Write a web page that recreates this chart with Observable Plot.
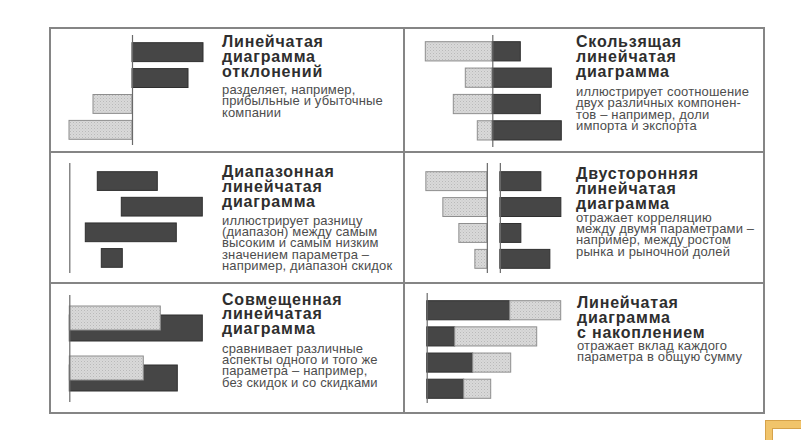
<!DOCTYPE html>
<html>
<head>
<meta charset="utf-8">
<script src="https://cdn.jsdelivr.net/npm/d3@7"></script>
<script src="https://cdn.jsdelivr.net/npm/@observablehq/plot@0.6"></script>
<style>
  html, body { margin: 0; padding: 0; background: #fff; }
  #page { position: relative; width: 801px; height: 440px; background: #fff; overflow: hidden; font-family: "Liberation Sans", Arial, sans-serif; }
  .ln { position: absolute; background: #858585; }
  .title { position: absolute; font-weight: bold; font-size: 16px; line-height: 14.8px; letter-spacing: 0.8px; color: #2e2e2e; white-space: nowrap; }
  .desc { position: absolute; font-size: 13px; line-height: 11.4px; letter-spacing: 0.15px; color: #4d4d4d; white-space: nowrap; }
  #corner { position: absolute; left: 765px; top: 420px; width: 60px; height: 40px; background: #f1c46b; border: 1px solid #d6a24a; box-sizing: border-box; }
  #corner div { position: absolute; left: 6px; top: 7px; right: 0; bottom: 0; background: #fff; border-left: 1px solid #d6a24a; border-top: 1px solid #d6a24a; }
</style>
</head>
<body>
<svg width="0" height="0" style="position:absolute">
  <defs>
    <pattern id="stipple" width="3" height="3" patternUnits="userSpaceOnUse">
      <rect width="3" height="3" fill="#d9d9d9"></rect>
      <rect x="0" y="0" width="1" height="1" fill="#b9b9b9"></rect>
      <rect x="1.5" y="1.5" width="1" height="1" fill="#c6c6c6"></rect>
    </pattern>
  </defs>
</svg>
<div id="page"></div>
<script>
// ---------- data ----------
// 1. deviation bar chart
const devCats = ["a", "b", "c", "d"];
const devValues = [71, 56, -39, -63];
// 2. sliding bar chart (import / export)
const slideCats = ["a", "b", "c", "d"];
const slideLeft = [67, 27, 39, 15];
const slideRight = [28, 59, 48, 69];
// 3. range bar chart
const rangeCats = ["a", "b", "c", "d"];
const rangeLow = [28, 52, 16, 32];
const rangeHigh = [88, 133, 107, 53];
// 4. two-sided bar chart
const twoCats = ["a", "b", "c", "d"];
const twoLeft = [61, 44, 28, 12];
const twoRight = [41, 61, 21, 50];
// 5. overlapping bar chart
const overCats = ["g1", "g2"];
const overLight = [91, 74];
const overDark = [133, 108];
// 6. stacked bar chart
const stackCats = ["a", "b", "c", "d"];
const stackDark = [83, 28, 46, 37];
const stackLight = [51, 82, 38, 27];

// ---------- text ----------
const texts = [
  {t: "Линейчатая<br>диаграмма<br>отклонений", d: "разделяет, например,<br>прибыльные и убыточные<br>компании"},
  {t: "Скользящая<br>линейчатая<br>диаграмма", d: "иллюстрирует соотношение<br>двух различных компонен-<br>тов – например, доли<br>импорта и экспорта"},
  {t: "Диапазонная<br>линейчатая<br>диаграмма", d: "иллюстрирует разницу<br>(диапазон) между самым<br>высоким и самым низким<br>значением параметра –<br>например, диапазон скидок"},
  {t: "Двусторонняя<br>линейчатая<br>диаграмма", d: "отражает корреляцию<br>между двумя параметрами –<br>например, между ростом<br>рынка и рыночной долей"},
  {t: "Совмещенная<br>линейчатая<br>диаграмма", d: "сравнивает различные<br>аспекты одного и того же<br>параметра – например,<br>без скидок и со скидками"},
  {t: "Линейчатая<br>диаграмма<br>с накоплением", d: "отражает вклад каждого<br>параметра в общую сумму"}
];
const textPos = [
  {x: 222, ty: 35, dy: 84},
  {x: 576, ty: 35, dy: 86},
  {x: 222, ty: 165, dy: 214.5},
  {x: 576, ty: 167, dy: 211.5},
  {x: 222, ty: 292.5, dy: 342.5},
  {x: 577, ty: 296, dy: 340}
];

// ---------- styles ----------
const DARK = "#464646", DARK_EDGE = "#2f2f2f";
const LIGHT = "url(#stipple)", LIGHT_EDGE = "#8e8e8e";
const AXIS = "#6a6a6a";
const GAP = 13;

const page = document.getElementById("page");

function line(l, t, w, h) {
  const d = document.createElement("div");
  d.className = "ln";
  Object.assign(d.style, {left: l + "px", top: t + "px", width: w + "px", height: h + "px"});
  page.appendChild(d);
}
// frame
line(49, 27, 716, 2);
line(49, 412, 716, 2);
line(49, 27, 2, 387);
line(763, 27, 2, 387);
line(403, 27, 2, 387);
line(49, 151, 716, 2);
line(49, 282, 716, 2);

function place(svg, left, top) {
  svg.style.position = "absolute";
  svg.style.left = left + "px";
  svg.style.top = top + "px";
  svg.style.background = "transparent";
  svg.style.overflow = "visible";
  page.appendChild(svg);
}

function panel(opts) {
  const {left, top, height, xDomain, cats, yRange, pad, marks} = opts;
  return place(Plot.plot({
    width: 160, height, margin: 0,
    x: {axis: null, domain: xDomain},
    y: {axis: null, domain: cats, range: yRange, paddingInner: pad, paddingOuter: 0, round: false},
    marks
  }), left, top);
}

const dark = {fill: DARK, stroke: DARK_EDGE, strokeWidth: 1};
const light = {fill: LIGHT, stroke: LIGHT_EDGE, strokeWidth: 1};

// 1. deviation
{
  const data = devCats.map((c, i) => ({c, v: devValues[i]}));
  panel({left: 55, top: 35, height: 110, xDomain: [-77, 83], cats: devCats, yRange: [7.7, 104.3], pad: 0.27,
    marks: [
      Plot.barX(data, {filter: d => d.v > 0, y: "c", x1: 0, x2: "v", ...dark}),
      Plot.barX(data, {filter: d => d.v < 0, y: "c", x1: "v", x2: 0, ...light}),
      Plot.ruleX([0], {stroke: AXIS, strokeWidth: 1.2})
    ]});
}
// 2. sliding
{
  const data = slideCats.map((c, i) => ({c, l: slideLeft[i], r: slideRight[i]}));
  panel({left: 415, top: 35, height: 112, xDomain: [-77.3, 82.7], cats: slideCats, yRange: [6.7, 105], pad: 0.27,
    marks: [
      Plot.barX(data, {y: "c", x1: d => -d.l, x2: 0, ...light}),
      Plot.barX(data, {y: "c", x1: 0, x2: "r", ...dark}),
      Plot.ruleX([0], {stroke: AXIS, strokeWidth: 1.2})
    ]});
}
// 3. range
{
  const data = rangeCats.map((c, i) => ({c, lo: rangeLow[i], hi: rangeHigh[i]}));
  panel({left: 60, top: 163, height: 110, xDomain: [-9.3, 150.7], cats: rangeCats, yRange: [8.7, 104.3], pad: 0.27,
    marks: [
      Plot.barX(data, {y: "c", x1: "lo", x2: "hi", ...dark}),
      Plot.ruleX([0], {stroke: AXIS, strokeWidth: 1.2})
    ]});
}
// 4. two-sided
{
  const data = twoCats.map((c, i) => ({c, l: twoLeft[i], r: twoRight[i]}));
  panel({left: 415, top: 163, height: 110, xDomain: [-78.35, 81.65], cats: twoCats, yRange: [8.7, 105.3], pad: 0.27,
    marks: [
      Plot.barX(data, {y: "c", x1: d => -GAP / 2 - d.l, x2: -GAP / 2, ...light}),
      Plot.barX(data, {y: "c", x1: GAP / 2, x2: d => GAP / 2 + d.r, ...dark}),
      Plot.ruleX([-GAP / 2, GAP / 2], {stroke: AXIS, strokeWidth: 1.2})
    ]});
}
// 5. overlapping
{
  const data = overCats.map((c, i) => ({c, l: overLight[i], d: overDark[i]}));
  panel({left: 60, top: 295, height: 107, xDomain: [-9.3, 150.7], cats: overCats, yRange: [11, 96], pad: 0.3,
    marks: [
      Plot.barX(data, {y: "c", x1: 0, x2: "d", insetTop: 9, ...dark}),
      Plot.barX(data, {y: "c", x1: 0, x2: "l", insetBottom: 11, ...light}),
      Plot.ruleX([0], {stroke: AXIS, strokeWidth: 1.2})
    ]});
}
// 6. stacked
{
  const data = stackCats.map((c, i) => ({c, d: stackDark[i], l: stackLight[i]}));
  panel({left: 415, top: 293, height: 110, xDomain: [-11.7, 148.3], cats: stackCats, yRange: [7.7, 105.3], pad: 0.27,
    marks: [
      Plot.barX(data, {y: "c", x1: 0, x2: "d", ...dark}),
      Plot.barX(data, {y: "c", x1: "d", x2: d => d.d + d.l, ...light}),
      Plot.ruleX([0], {stroke: AXIS, strokeWidth: 1.2})
    ]});
}

// text blocks
texts.forEach((tx, i) => {
  const p = textPos[i];
  const t = document.createElement("div");
  t.className = "title";
  t.style.left = p.x + "px"; t.style.top = p.ty + "px";
  t.innerHTML = tx.t;
  page.appendChild(t);
  const d = document.createElement("div");
  d.className = "desc";
  d.style.left = p.x + "px"; d.style.top = p.dy + "px";
  d.innerHTML = tx.d;
  page.appendChild(d);
});

// corner mark
const corner = document.createElement("div");
corner.id = "corner";
corner.appendChild(document.createElement("div"));
page.appendChild(corner);
</script>
</body>
</html>
